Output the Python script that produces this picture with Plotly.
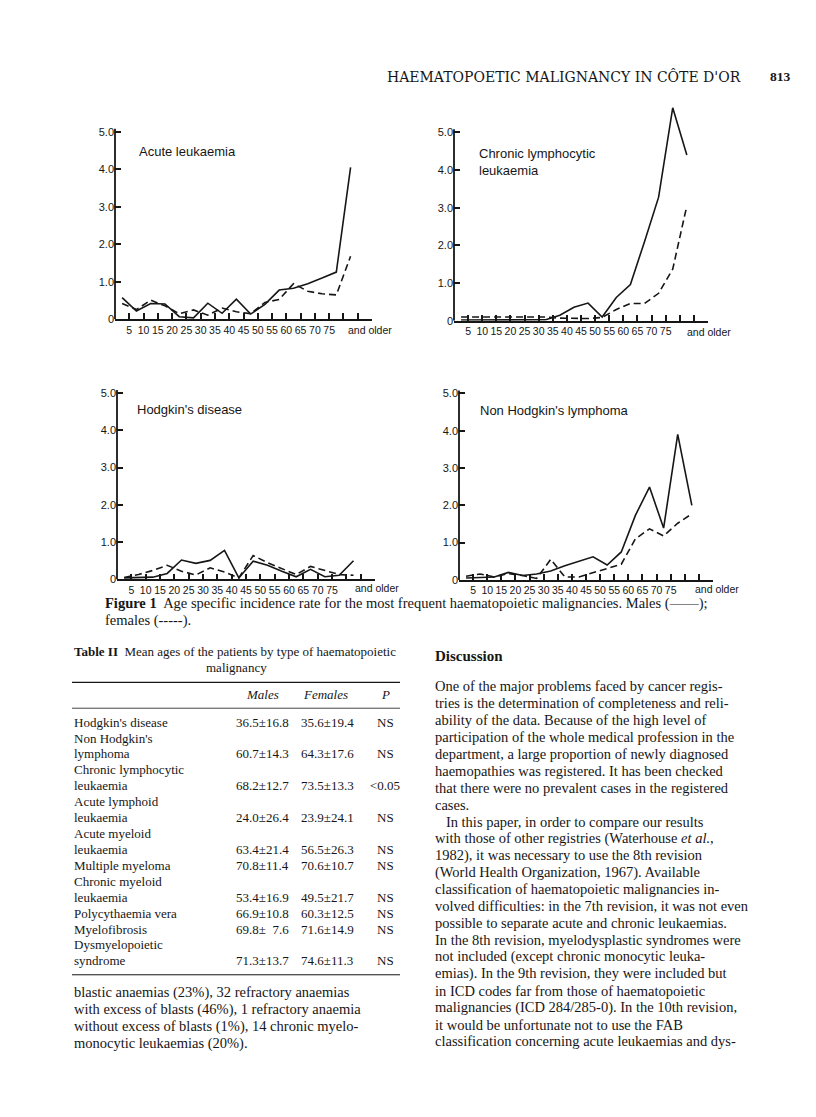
import plotly.graph_objects as go

W, H = 816, 1117
OFF = 8  # default page margin of the html body
SANS = "Liberation Sans, Arial, sans-serif"
SERIF = "Liberation Serif, Times New Roman, serif"
INK = "#161616"

# ---------------- data ----------------
age_mid = [2.5, 7.5, 12.5, 17.5, 22.5, 27.5, 32.5, 37.5, 42.5, 47.5,
           52.5, 57.5, 62.5, 67.5, 72.5, 77.5, 82.5]
tick_vals = [5, 10, 15, 20, 25, 30, 35, 40, 45, 50, 55, 60, 65, 70, 75, 80, 85]
tick_text = ["5", "10", "15", "20", "25", "30", "35", "40", "45", "50",
             "55", "60", "65", "70", "75", "", ""]
y_vals = [0, 1, 2, 3, 4, 5]
y_text = ["0", "1.0", "2.0", "3.0", "4.0", "5.0"]

acute_m = [0.58, 0.22, 0.42, 0.41, 0.07, 0.04, 0.43, 0.16, 0.54, 0.14,
           0.40, 0.78, 0.83, 0.95, 1.10, 1.26, 4.05]
acute_f = [0.42, 0.26, 0.51, 0.36, 0.15, 0.25, 0.11, 0.30, 0.20, 0.15,
           0.45, 0.53, 0.95, 0.75, 0.68, 0.65, 1.68]

cll_m = [0.02, 0.02, 0.02, 0.02, 0.02, 0.02, 0.03, 0.15, 0.36, 0.47,
         0.10, 0.62, 0.96, 2.10, 3.28, 5.65, 4.40]
cll_f = [0.10, 0.10, 0.10, 0.10, 0.10, 0.10, 0.10, 0.07, 0.06, 0.06,
         0.09, 0.30, 0.46, 0.46, 0.73, 1.37, 3.05]

hodg_m = [0.04, 0.04, 0.06, 0.16, 0.52, 0.43, 0.51, 0.78, 0.04, 0.49,
          0.38, 0.22, 0.07, 0.27, 0.07, 0.11, 0.50]
hodg_f = [0.05, 0.13, 0.24, 0.38, 0.22, 0.12, 0.31, 0.20, 0.04, 0.64,
          0.45, 0.28, 0.13, 0.35, 0.24, 0.13, 0.11]

nhl_m = [0.05, 0.06, 0.08, 0.20, 0.12, 0.16, 0.24, 0.38, 0.50, 0.62,
         0.40, 0.75, 1.73, 2.49, 1.39, 3.90, 2.00]
nhl_f = [0.10, 0.16, 0.08, 0.17, 0.12, 0.04, 0.55, 0.08, 0.08, 0.20,
         0.30, 0.42, 1.10, 1.37, 1.18, 1.52, 1.77]

panel_titles = ["Acute leukaemia", "Chronic lymphocytic<br>leukaemia",
                "Hodgkin's disease", "Non Hodgkin's lymphoma"]

table_labels = [["Hodgkin's disease"], ["Non Hodgkin's", "lymphoma"],
                ["Chronic lymphocytic", "leukaemia"], ["Acute lymphoid", "leukaemia"],
                ["Acute myeloid", "leukaemia"], ["Multiple myeloma"],
                ["Chronic myeloid", "leukaemia"], ["Polycythaemia vera"],
                ["Myelofibrosis"], ["Dysmyelopoietic", "syndrome"]]
table_males = ["36.5±16.8", "60.7±14.3", "68.2±12.7", "24.0±26.4", "63.4±21.4",
               "70.8±11.4", "53.4±16.9", "66.9±10.8", "69.8±  7.6", "71.3±13.7"]
table_females = ["35.6±19.4", "64.3±17.6", "73.5±13.3", "23.9±24.1", "56.5±26.3",
                 "70.6±10.7", "49.5±21.7", "60.3±12.5", "71.6±14.9", "74.6±11.3"]
table_p = ["NS", "NS", "<0.05", "NS", "NS", "NS", "NS", "NS", "NS", "NS"]

left_par = ["blastic anaemias (23%), 32 refractory anaemias",
            "with excess of blasts (46%), 1 refractory anaemia",
            "without excess of blasts (1%), 14 chronic myelo-",
            "monocytic leukaemias (20%)."]

right_par = ["One of the major problems faced by cancer regis-",
             "tries is the determination of completeness and reli-",
             "ability of the data. Because of the high level of",
             "participation of the whole medical profession in the",
             "department, a large proportion of newly diagnosed",
             "haemopathies was registered. It has been checked",
             "that there were no prevalent cases in the registered",
             "cases.",
             "   In this paper, in order to compare our results",
             "with those of other registries (Waterhouse <i>et al.</i>,",
             "1982), it was necessary to use the 8th revision",
             "(World Health Organization, 1967). Available",
             "classification of haematopoietic malignancies in-",
             "volved difficulties: in the 7th revision, it was not even",
             "possible to separate acute and chronic leukaemias.",
             "In the 8th revision, myelodysplastic syndromes were",
             "not included (except chronic monocytic leuka-",
             "emias). In the 9th revision, they were included but",
             "in ICD codes far from those of haematopoietic",
             "malignancies (ICD 284/285-0). In the 10th revision,",
             "it would be unfortunate not to use the FAB",
             "classification concerning acute leukaemias and dys-"]

# ---------------- layout geometry (pixels, page coords) ----------------
# (x_left, x_right, y_zero, px_per_unit, title_x, title_y, older_x, label_y)
geo = [
    (115, 372, 321.0, 37.7, 137, 152, 370, 332),
    (454, 708, 322.5, 37.9, 477, 145, 709, 334),
    (117, 375, 582.5, 37.5, 135, 412, 377, 591),
    (459, 713, 583.0, 37.5, 478, 413, 717, 592),
]
series = [(acute_m, acute_f), (cll_m, cll_f), (hodg_m, hodg_f), (nhl_m, nhl_f)]
YAX_TOP = 5.08   # top of the drawn y axis line
YRANGE = 6.0     # plotting range (lets the CLL peak rise above the axis)


def fx(px):
    return (px - OFF) / W


def fy(py):
    return 1 - (py - OFF) / H


fig = go.Figure()
annotations = []
shapes = []


def txt(s, px, py, size=14, family=SERIF, anchor="left", va="middle"):
    annotations.append(dict(text=s, x=fx(px), y=fy(py), xref="paper", yref="paper",
                            showarrow=False, xanchor=anchor, yanchor=va, align="left",
                            font=dict(family=family, size=size, color=INK)))


layout_axes = {}
for i, ((xl, xr, y0, ppu, tx, ty, older_x, lab_y), (m, f)) in enumerate(zip(geo, series)):
    n = "" if i == 0 else str(i + 1)
    ytop_px = y0 - YRANGE * ppu
    xa = dict(domain=[fx(xl), fx(xr)], range=[0, 90], anchor="y" + n,
              showline=True, linecolor=INK, linewidth=1.8, ticks="inside",
              ticklen=6, tickwidth=1.5, tickcolor=INK, tickvals=tick_vals,
              ticktext=tick_text, tickangle=0, showgrid=False, zeroline=False,
              tickfont=dict(family=SANS, size=10.5, color=INK), fixedrange=True)
    ya = dict(domain=[fy(y0), fy(ytop_px)], range=[0, YRANGE], anchor="x" + n,
              showline=False, ticks="inside",
              ticklen=6, tickwidth=1.5, tickcolor=INK, tickvals=y_vals,
              ticktext=y_text, showgrid=False, zeroline=False,
              tickfont=dict(family=SANS, size=11, color=INK), fixedrange=True)
    layout_axes["xaxis" + n] = xa
    layout_axes["yaxis" + n] = ya
    # y axis line, stopping just above 5.0
    shapes.append(dict(type="line", xref="x" + n + " domain", yref="y" + n,
                       x0=0, x1=0, y0=0, y1=YAX_TOP, line=dict(color=INK, width=1.8)))
    fig.add_trace(go.Scatter(x=age_mid, y=m, mode="lines", xaxis="x" + n, yaxis="y" + n,
                             line=dict(color=INK, width=1.6), name="Males",
                             showlegend=False))
    fig.add_trace(go.Scatter(x=age_mid, y=f, mode="lines", xaxis="x" + n, yaxis="y" + n,
                             line=dict(color=INK, width=1.6, dash="7px,4px"),
                             name="Females", showlegend=False))
    txt(panel_titles[i], tx, ty, size=13, family=SANS,
        va="top" if "<br>" in panel_titles[i] else "middle")
    txt("and older", older_x, lab_y, size=10.5, family=SANS, anchor="center")

# ---------------- page text ----------------
txt("HAEMATOPOETIC MALIGNANCY IN CÔTE D'OR", 385, 77, size=14,
    family="DejaVu Serif, serif")
txt("<b>813</b>", 768, 77, size=13.5)

txt("<b>Figure 1</b>  Age specific incidence rate for the most frequent haematopoietic "
    "malignancies. Males (——);", 103, 607, size=14.5)
txt("females (-----).", 103, 624, size=14.5)

txt("<b>Table II</b>  Mean ages of the patients by type of haematopoietic", 72, 655, size=13)
txt("malignancy", 236, 671, size=13, anchor="center")

for yy, wdt in [(686, 1.2), (712, 0.8), (980, 1.0)]:
    shapes.append(dict(type="line", xref="paper", yref="paper", x0=fx(72), x1=fx(400),
                       y0=fy(yy), y1=fy(yy), line=dict(color=INK, width=wdt)))
txt("<i>Males</i>", 262, 698, size=13, anchor="center")
txt("<i>Females</i>", 325, 698, size=13, anchor="center")
txt("<i>P</i>", 385, 698, size=13, anchor="center")

row_y = 726
for lab, mv, fv, pv in zip(table_labels, table_males, table_females, table_p):
    for j, part in enumerate(lab):
        txt(part, 72, row_y, size=13)
        if j < len(lab) - 1:
            row_y += 16
    txt(mv, 262, row_y, size=13, anchor="center")
    txt(fv, 327, row_y, size=13, anchor="center")
    txt(pv, 385, row_y, size=13, anchor="center")
    row_y += 16

for k, line in enumerate(left_par):
    txt(line, 72, 998 + 17 * k, size=14.5)

txt("<b>Discussion</b>", 433, 659, size=15)
for k, line in enumerate(right_par):
    txt(line, 433, 690 + 17 * k, size=14.5)

fig.update_layout(width=W, height=H, margin=dict(l=0, r=0, t=0, b=0),
                  paper_bgcolor="white", plot_bgcolor="white",
                  annotations=annotations, shapes=shapes, showlegend=False,
                  **layout_axes)

fig.write_html("out.html")
